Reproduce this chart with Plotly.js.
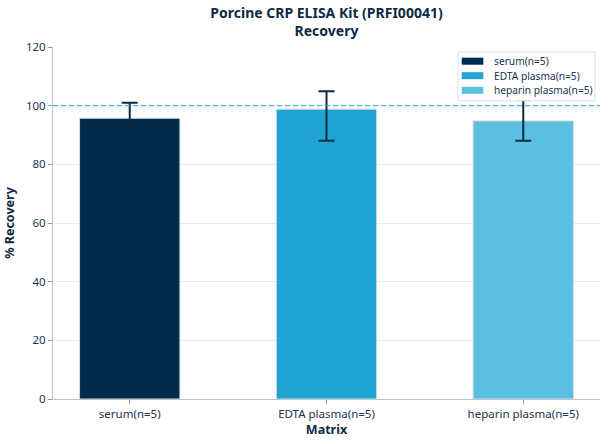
<!DOCTYPE html>
<html>
<head>
<meta charset="utf-8">
<script src="https://cdn.plot.ly/plotly-3.0.1.min.js"></script>
<style>html,body{margin:0;padding:0;background:#fff}#chart{width:608px;height:444px}</style>
</head>
<body>
<div id="chart"></div>
<script>
const categories = ["serum(n=5)", "EDTA plasma(n=5)", "heparin plasma(n=5)"];
const recovery = [95.7, 98.8, 94.8];
const errPlus = [5.3, 6.1, 7.2];
const errMinus = [5.0, 10.8, 6.8];
const colors = ["#012b4b", "#1fa5d4", "#5bc0df"];
const yTicks = [0, 20, 40, 60, 80, 100, 120];
const refLine = 100;

const textColor = "#1b3350";
const fontFam = "Noto Sans";
const traces = categories.map((c, i) => ({
  type: "bar",
  name: c,
  x: [c],
  y: [recovery[i]],
  width: 0.51,
  showlegend: false,
  marker: {color: colors[i], line: {color: "#d0dbe3", width: 1}},
  error_y: {type: "data", symmetric: false, array: [errPlus[i]], arrayminus: [errMinus[i]],
            color: "#0d2a45", thickness: 2, width: 8},
  hoverinfo: "none"
}));

// custom legend (paper coords of plot area)
const lg = {x0: 0.7404, x1: 0.9909, y0: 0.847, y1: 0.986};
const rowY = [0.9597, 0.9185, 0.8770];
const shapes = [
  {type: "line", xref: "paper", x0: 0, x1: 1, yref: "y", y0: refLine, y1: refLine,
   line: {color: "#1aa8e0", width: 1.2, dash: "5px,3px"}, opacity: 0.75, layer: "above"},
  {type: "rect", xref: "paper", yref: "paper", x0: lg.x0, x1: lg.x1, y0: lg.y0, y1: lg.y1,
   fillcolor: "#ffffff", line: {color: "#d6e0e8", width: 1}, layer: "above"}
];
const annotations = [];
categories.forEach((c, i) => {
  shapes.push({type: "rect", xref: "paper", yref: "paper",
    x0: 0.7472, x1: 0.7867, y0: rowY[i] - 0.0100, y1: rowY[i] + 0.0100,
    fillcolor: colors[i], line: {width: 0}, layer: "above"});
  annotations.push({xref: "paper", yref: "paper", x: 0.802, y: rowY[i], xanchor: "left", yanchor: "middle",
    text: c, showarrow: false, font: {family: fontFam, size: 10.2, color: textColor}});
});

const layout = {
  width: 608, height: 444,
  margin: {l: 53, r: 8, t: 47, b: 45},
  paper_bgcolor: "#fff", plot_bgcolor: "#fff",
  font: {family: fontFam, size: 11.5, color: textColor},
  barmode: "overlay",
  showlegend: false,
  title: {text: "<b>Porcine CRP ELISA Kit (PRFI00041)<br>Recovery</b>",
          xref: "paper", x: 0.5, xanchor: "center",
          yref: "container", y: 0.959, yanchor: "middle",
          font: {family: fontFam, size: 14, color: "#0d2a45"}},
  xaxis: {
    type: "category", categoryorder: "array", categoryarray: categories,
    range: [-0.39, 2.39],
    showline: true, linecolor: "#b8c4ce", linewidth: 1,
    ticks: "outside", ticklen: 4, tickcolor: "#8a99a8",
    showgrid: false, zeroline: false,
    tickfont: {family: fontFam, size: 11.5, color: textColor},
    title: {text: "<b>Matrix</b>", font: {family: fontFam, size: 12.5, color: "#0d2a45"}, standoff: 2}
  },
  yaxis: {
    range: [0, 120], tickvals: yTicks,
    showline: true, linecolor: "#b8c4ce", linewidth: 1,
    ticks: "outside", ticklen: 4, tickcolor: "#8a99a8",
    showgrid: true, gridcolor: "#e6edf2", gridwidth: 1, zeroline: false,
    tickfont: {family: fontFam, size: 11.5, color: textColor},
    title: {text: "<b>% Recovery</b>", font: {family: fontFam, size: 12.5, color: "#0d2a45"}, standoff: 8}
  },
  shapes: shapes,
  annotations: annotations
};

Plotly.newPlot("chart", traces, layout, {displayModeBar: false, staticPlot: true});
</script>
</body>
</html>
